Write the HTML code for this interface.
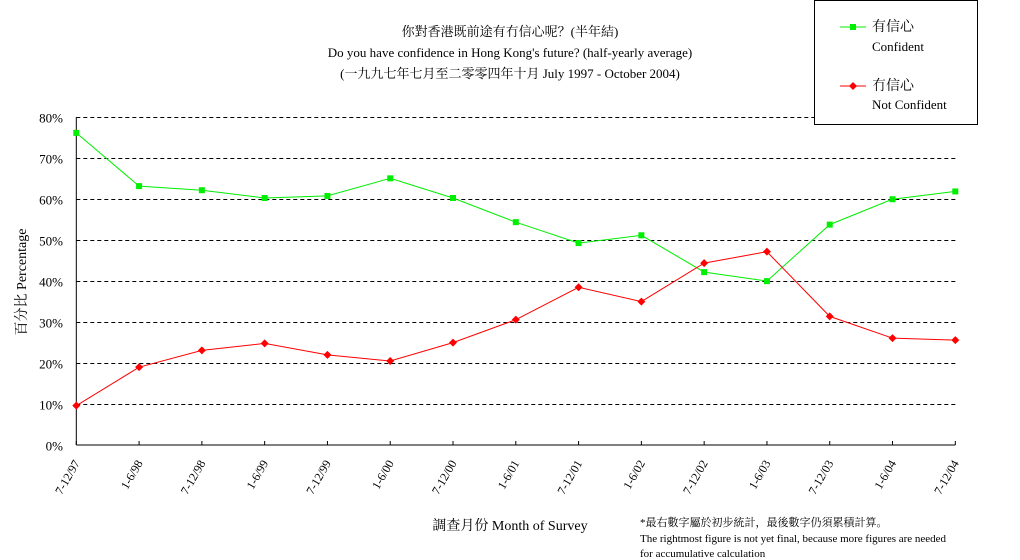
<!DOCTYPE html>
<html><head><meta charset="utf-8">
<style>
body{margin:0;background:#fff;}
svg{display:block;font-family:"Liberation Serif","Noto Serif CJK SC","WenQuanYi Zen Hei",serif;}
</style></head>
<body>
<svg id="chart" width="1020" height="560" viewBox="0 0 1020 560" xmlns="http://www.w3.org/2000/svg">
<g text-anchor="middle" font-size="13" fill="#000">
<text x="510" y="36">你對香港既前途有冇信心呢？(半年結)</text>
<text x="510" y="57">Do you have confidence in Hong Kong's future? (half-yearly average)</text>
<text x="510" y="78">(一九九七年七月至二零零四年十月 July 1997 - October 2004)</text>
</g>
<g id="grid"></g>
<g id="axes"></g>
<g id="series"></g>
<text transform="translate(26,282) rotate(-90)" text-anchor="middle" font-size="14">百分比 Percentage</text>
<text x="510" y="530" text-anchor="middle" font-size="14">調查月份 Month of Survey</text>
<g font-size="11">
<text x="640" y="526">*最右數字屬於初步統計，最後數字仍須累積計算。</text>
<text x="640" y="542">The rightmost figure is not yet final, because more figures are needed</text>
<text x="640" y="557">for accumulative calculation</text>
</g>
<g>
<rect x="814.5" y="0.5" width="163" height="124" fill="#fff" stroke="#000"/>
<g>
<line x1="840" y1="27" x2="866" y2="27" stroke="#00ee00"/>
<rect x="850" y="24" width="6" height="6" fill="#00ee00"/>
<text x="872" y="31" font-size="14">有信心</text>
<text x="872" y="51" font-size="13">Confident</text>
</g>
<g>
<line x1="840" y1="86" x2="866" y2="86" stroke="#ff0000"/>
<polygon points="853,82 857,86 853,90 849,86" fill="#ff0000"/>
<text x="872" y="90" font-size="14">冇信心</text>
<text x="872" y="109" font-size="13">Not Confident</text>
</g>
</g>
</svg>
<script>
const categories=["7-12/97","1-6/98","7-12/98","1-6/99","7-12/99","1-6/00","7-12/00","1-6/01","7-12/01","1-6/02","7-12/02","1-6/03","7-12/03","1-6/04","7-12/04"];
const confident=[76.2,63.2,62.2,60.3,60.8,65.1,60.3,54.4,49.3,51.2,42.2,40.0,53.8,60.0,61.9];
const notConfident=[9.6,19.0,23.1,24.8,22.0,20.5,25.0,30.6,38.5,35.0,44.4,47.2,31.4,26.1,25.6];
const yTicks=[0,10,20,30,40,50,60,70,80];
const yTickLabels=["0%","10%","20%","30%","40%","50%","60%","70%","80%"];

const NS="http://www.w3.org/2000/svg";
const X0=76.3,X1=955.3,Y0=445,Y1=117.3,YMAX=80;
function xPos(i){return X0+(X1-X0)*i/(categories.length-1);}
function yPos(v){return Y0-(Y0-Y1)*v/YMAX;}
function mk(tag,attrs,parent){const e=document.createElementNS(NS,tag);for(const k in attrs)e.setAttribute(k,attrs[k]);parent.appendChild(e);return e;}
const grid=document.getElementById('grid'),axes=document.getElementById('axes'),series=document.getElementById('series');

yTicks.forEach((t,i)=>{
  const y=Math.round(yPos(t))+0.5;
  if(t>0){
    const l=mk('line',{x1:X0,y1:y,x2:X1,y2:y,stroke:'#000','stroke-dasharray':'4,3'},grid);
    
    
  }
  const tx=mk('text',{x:63,y:y+5,'text-anchor':'end','font-size':13},axes);
  tx.textContent=yTickLabels[i];
  
  
});
let l=mk('line',{x1:X0,y1:Y0,x2:X0,y2:Y1,stroke:'#000'},axes);


l=mk('line',{x1:X0,y1:Y0,x2:X1,y2:Y0,stroke:'#000'},axes);


categories.forEach((c,i)=>{
  const x=xPos(i);
  const tk=mk('line',{x1:x,y1:Y0,x2:x,y2:Y0-4,stroke:'#000'},axes);
  
  
  const t=mk('text',{x:0,y:0,'text-anchor':'end','font-size':12,transform:`translate(${x+4},${Y0+18}) rotate(-60)`},axes);
  t.textContent=c;
  
  
});
function drawSeries(vals,color,name,marker){
  const pts=vals.map((v,i)=>xPos(i).toFixed(1)+','+yPos(v).toFixed(1)).join(' ');
  const pl=mk('polyline',{points:pts,fill:'none',stroke:color,'stroke-width':1},series);
  
  
  vals.forEach((v,i)=>{
    const x=xPos(i),y=yPos(v);let m;
    if(marker==='square') m=mk('rect',{x:x-3,y:y-3,width:6,height:6,fill:color},series);
    else m=mk('polygon',{points:`${x},${y-4} ${x+4},${y} ${x},${y+4} ${x-4},${y}`,fill:color},series);
    
    
  });
}
drawSeries(confident,'#00ee00','confident','square');
drawSeries(notConfident,'#ff0000','not-confident','diamond');
</script>
</body></html>
